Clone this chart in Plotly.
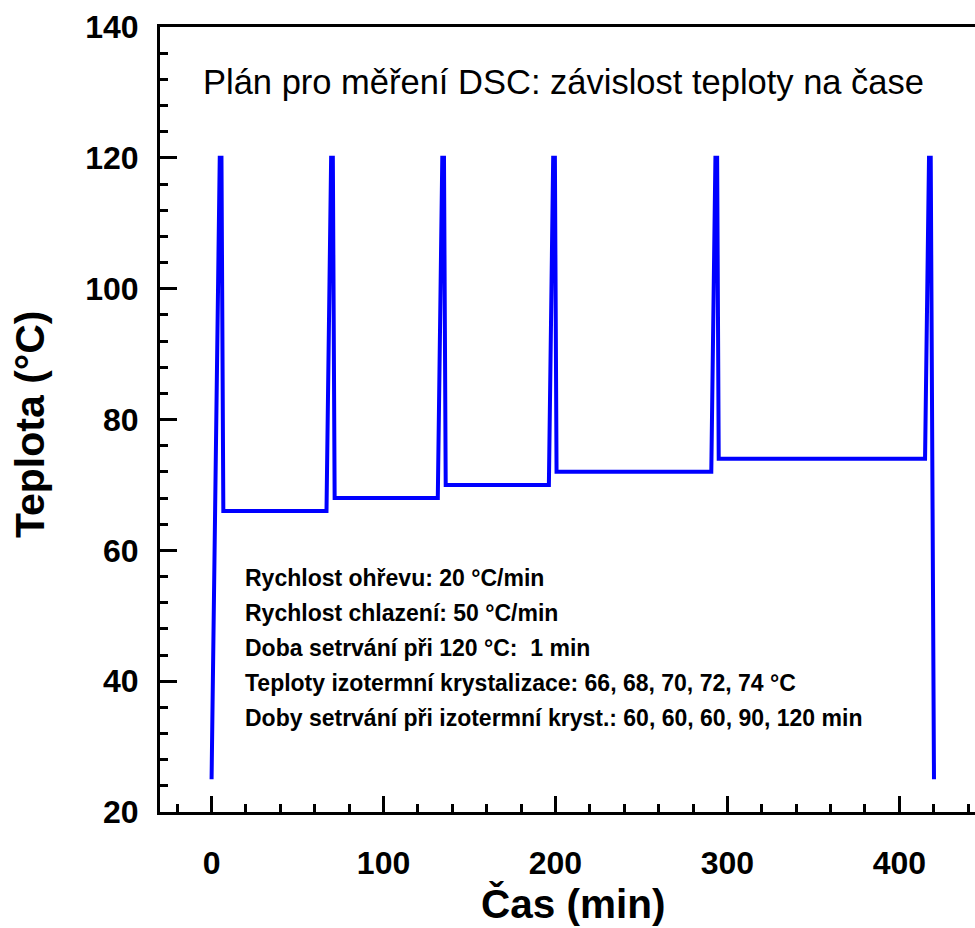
import plotly.graph_objects as go

# DSC temperature programme: time breakpoints (min) and set temperatures (°C)
time_min = [0, 4.75, 5.75, 6.83, 66.83, 69.53, 70.53, 71.57, 131.57, 134.17,
            135.17, 136.17, 196.17, 198.67, 199.67, 200.63, 290.63, 293.03,
            294.03, 294.95, 414.95, 417.25, 418.25, 420.15]
temp_c = [25, 120, 120, 66, 66, 120, 120, 68, 68, 120,
          120, 70, 70, 120, 120, 72, 72, 120,
          120, 74, 74, 120, 120, 25]

x_ticks = [0, 100, 200, 300, 400]
y_ticks = [20, 40, 60, 80, 100, 120, 140]

title_text = "Plán pro měření DSC: závislost teploty na čase"
info_lines = [
    "Rychlost ohřevu: 20 °C/min",
    "Rychlost chlazení: 50 °C/min",
    "Doba setrvání při 120 °C:\u00a0 1 min",
    "Teploty izotermní krystalizace: 66, 68, 70, 72, 74 °C",
    "Doby setrvání při izotermní kryst.: 60, 60, 60, 90, 120 min",
]

FONT = "Liberation Sans, Arial, sans-serif"

fig = go.Figure()
fig.add_trace(go.Scatter(
    x=time_min, y=temp_c, mode="lines",
    line=dict(color="#0000FF", width=4),
    showlegend=False, hoverinfo="skip",
))

axis_common = dict(
    showgrid=False, zeroline=False,
    showline=True, linecolor="black", linewidth=3,
    ticks="inside", tickcolor="black", tickwidth=2.5,
    tickfont=dict(family=FONT, size=32, color="black", weight="bold"),
)

fig.update_xaxes(
    range=[-30, 444], tickmode="array", tickvals=x_ticks,
    ticktext=[str(v) for v in x_ticks], ticklen=16,
    minor=dict(dtick=20, tick0=0, ticks="inside", ticklen=8,
               tickwidth=2.5, tickcolor="black"),
    mirror=True, ticklabelstandoff=21,
    **axis_common,
)
fig.update_yaxes(
    range=[20, 140], tickmode="array", tickvals=y_ticks,
    ticktext=[str(v) for v in y_ticks], ticklen=17,
    minor=dict(dtick=4, tick0=20, ticks="inside", ticklen=8,
               tickwidth=2.5, tickcolor="black"),
    ticklabelstandoff=12,
    **axis_common,
)

annotations = [
    dict(text="Čas (min)", xref="paper", yref="paper", x=0.507, y=-0.117,
         xanchor="center", yanchor="middle", showarrow=False,
         font=dict(family=FONT, size=40.5, color="black", weight="bold")),
    dict(text="Teplota (°C)", xref="paper", yref="paper", x=-0.1595, y=0.493,
         xanchor="center", yanchor="middle", textangle=-90, showarrow=False,
         font=dict(family=FONT, size=41, color="black", weight="bold")),
    dict(text=title_text, xref="x", yref="y", x=-5.9, y=131.6,
         xanchor="left", yanchor="middle", showarrow=False,
         font=dict(family=FONT, size=34.5, color="black")),
]

line_y0, line_step = 55.7, 5.33
for i, line in enumerate(info_lines):
    annotations.append(dict(
        text=line, xref="x", yref="y", x=18, y=line_y0 - i * line_step,
        xanchor="left", yanchor="middle", showarrow=False,
        font=dict(family=FONT, size=23, color="black", weight="bold"),
    ))

fig.update_layout(
    width=975, height=928,
    margin=dict(l=160, r=0, t=27, b=116, pad=0),
    paper_bgcolor="white", plot_bgcolor="white",
    annotations=annotations,
)

fig.write_html("out.html")
